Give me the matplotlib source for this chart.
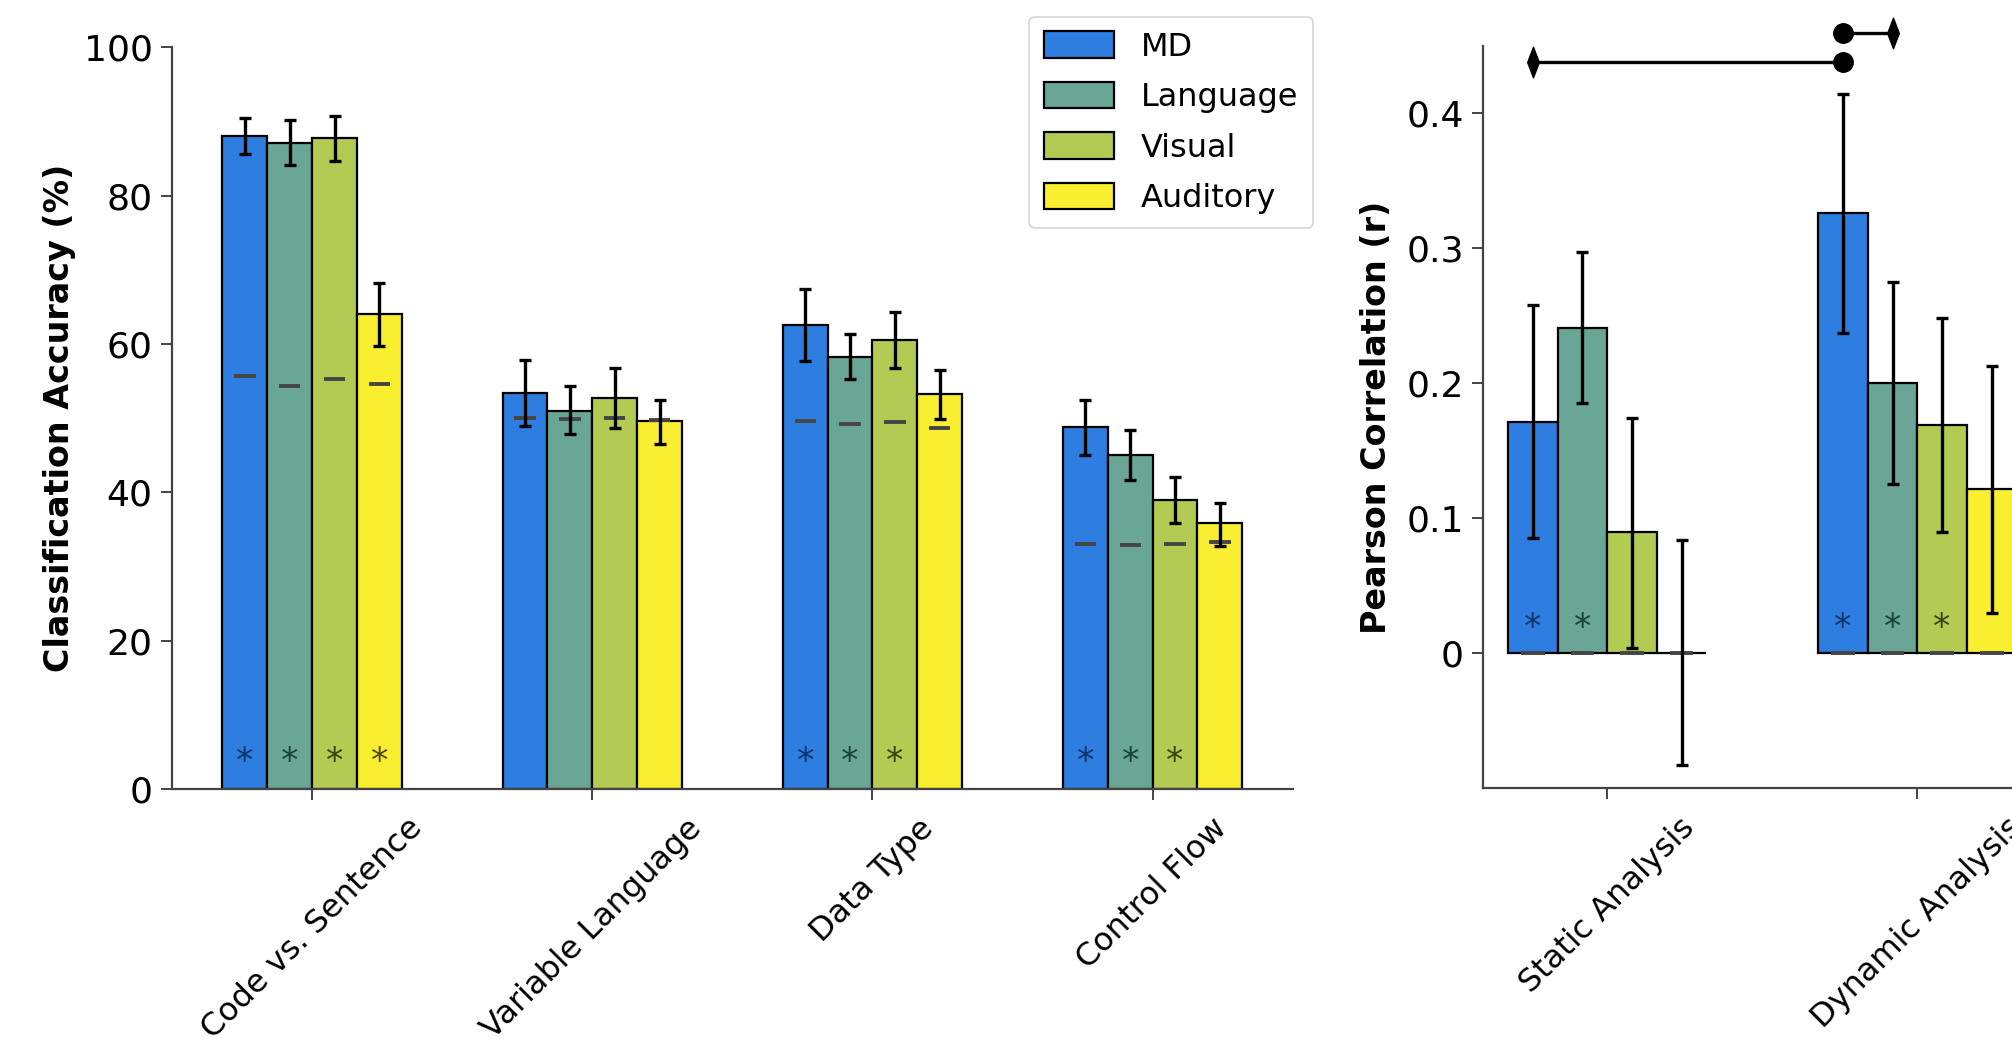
import numpy as np
import matplotlib
matplotlib.use('Agg')
import matplotlib.pyplot as plt
from matplotlib.path import Path

# Daten
regions = ['MD', 'Language', 'Visual', 'Auditory']
colors = ['#2e7de0', '#69a695', '#b3cb53', '#f9ef30']
star_colors = ['#0e3468', '#184438', '#37430c', '#4d480a']

tasks = ['Code vs. Sentence', 'Variable Language', 'Data Type', 'Control Flow']
acc_mean = [[88.0, 53.4, 62.5, 48.8],
            [87.1, 50.9, 58.3, 45.1],
            [87.8, 52.7, 60.5, 39.0],
            [64.1, 49.6, 53.2, 35.9]]
acc_lo = [[85.6, 49.0, 57.7, 45.0],
          [84.1, 47.8, 55.3, 41.6],
          [84.7, 48.7, 56.8, 35.9],
          [59.7, 46.5, 49.9, 32.8]]
acc_hi = [[90.5, 57.8, 67.4, 52.5],
          [90.2, 54.3, 61.3, 48.4],
          [90.7, 56.7, 64.3, 42.1],
          [68.2, 52.5, 56.5, 38.5]]
acc_chance = [[55.7, 50.0, 49.6, 33.0],
              [54.3, 49.9, 49.2, 32.9],
              [55.3, 50.0, 49.5, 33.1],
              [54.6, 49.8, 48.7, 33.3]]
acc_sig = [[1, 0, 1, 1],
           [1, 0, 1, 1],
           [1, 0, 1, 1],
           [1, 0, 0, 0]]

analyses = ['Static Analysis', 'Dynamic Analysis']
r_mean = [[0.171, 0.326],
          [0.241, 0.200],
          [0.090, 0.169],
          [0.000, 0.122]]
r_lo = [[0.085, 0.237],
        [0.185, 0.125],
        [0.004, 0.090],
        [-0.083, 0.030]]
r_hi = [[0.258, 0.414],
        [0.297, 0.275],
        [0.174, 0.248],
        [0.084, 0.213]]
r_chance = [[0.0, 0.0], [0.0, 0.0], [0.0, 0.0], [0.0, 0.0]]
r_sig = [[1, 1], [1, 1], [0, 1], [0, 0]]

# Vergleiche: (Region, Kategorie) mit Raute -> (Region, Kategorie) mit Punkt, Hoehe
brackets = [((0, 0), (0, 1), 0.438),
            ((1, 1), (0, 1), 0.459)]

width = 0.16
offsets = (np.arange(4) - 1.5) * width
thin_diamond = Path([(0, 1), (0.38, 0), (0, -1), (-0.38, 0), (0, 1)],
                    [Path.MOVETO, Path.LINETO, Path.LINETO, Path.LINETO, Path.CLOSEPOLY])


def grouped_bars(ax, means, lo, hi, chance, sig, star_y, labels=None):
    x = np.arange(len(means[0]))
    for i in range(4):
        m = np.array(means[i])
        err = [m - np.array(lo[i]), np.array(hi[i]) - m]
        ax.bar(x + offsets[i], m, width, color=colors[i], edgecolor='black',
               linewidth=1.6, zorder=2, label=labels[i] if labels else None)
        ax.hlines(chance[i], x + offsets[i] - 0.038, x + offsets[i] + 0.038,
                  color='#454545', linewidth=2.8, zorder=3)
        ax.errorbar(x + offsets[i], m, yerr=err, fmt='none', ecolor='black',
                    elinewidth=2.4, capsize=4.5, capthick=2.4, zorder=4)
        for j, s in enumerate(sig[i]):
            if s:
                ax.text(x[j] + offsets[i], star_y, '*', ha='center', va='center',
                        fontsize=25, color=star_colors[i], zorder=5)
    ax.set_xticks(x)


def style(ax):
    ax.spines['top'].set_visible(False)
    ax.spines['right'].set_visible(False)
    for sp in ['left', 'bottom']:
        ax.spines[sp].set_linewidth(1.6)
        ax.spines[sp].set_color('#444444')
    ax.tick_params(axis='y', labelsize=26, length=8, width=1.4, pad=6, color='#444444')
    ax.tick_params(axis='x', labelsize=23, length=8, width=1.4, pad=9, color='#444444')


fig = plt.figure(figsize=(20.12, 10.47), dpi=100)

ax1 = fig.add_axes([0.0855, 0.2464, 0.557, 0.7084])
grouped_bars(ax1, acc_mean, acc_lo, acc_hi, acc_chance, acc_sig, 3.6, labels=regions)
ax1.set_xticklabels(tasks, rotation=45)
ax1.set_xlim(-0.5, 3.5)
ax1.set_ylim(0, 100)
ax1.set_yticks([0, 20, 40, 60, 80, 100])
ax1.set_ylabel('Classification Accuracy (%)', fontsize=24, fontweight='bold')
ax1.yaxis.set_label_coords(-0.086, 0.5)
style(ax1)

ax2 = fig.add_axes([0.7372, 0.2471, 0.3082, 0.7093])
grouped_bars(ax2, r_mean, r_lo, r_hi, r_chance, r_sig, 0.0185)
ax2.set_xticklabels(analyses, rotation=45)
ax2.set_xlim(-0.4, 1.6)
ax2.set_ylim(-0.1, 0.45)
ax2.set_yticks([0, 0.1, 0.2, 0.3, 0.4])
ax2.set_yticklabels(['0', '0.1', '0.2', '0.3', '0.4'])
ax2.set_ylabel('Pearson Correlation (r)', fontsize=24, fontweight='bold')
ax2.yaxis.set_label_coords(-0.145, 0.5)
style(ax2)

for (rd, cd), (rc, cc), yb in brackets:
    xd = cd + offsets[rd]
    xc = cc + offsets[rc]
    ax2.plot([xd, xc], [yb, yb], color='black', linewidth=2.4, clip_on=False, zorder=6)
    ax2.plot(xd, yb, marker=thin_diamond, markersize=22, color='black',
             clip_on=False, zorder=7)
    ax2.plot(xc, yb, marker='o', markersize=14, color='black', clip_on=False, zorder=7)

leg = ax1.legend(loc='upper right', bbox_to_anchor=(0.6526, 0.9838),
                 bbox_transform=fig.transFigure, fontsize=23, frameon=True,
                 fancybox=True, edgecolor='#cccccc', handlelength=2.2,
                 handleheight=0.9, handletextpad=0.85, labelspacing=0.6,
                 borderpad=0.45, borderaxespad=0)
leg.get_frame().set_linewidth(1.2)

fig.savefig('out.png', dpi=100)
